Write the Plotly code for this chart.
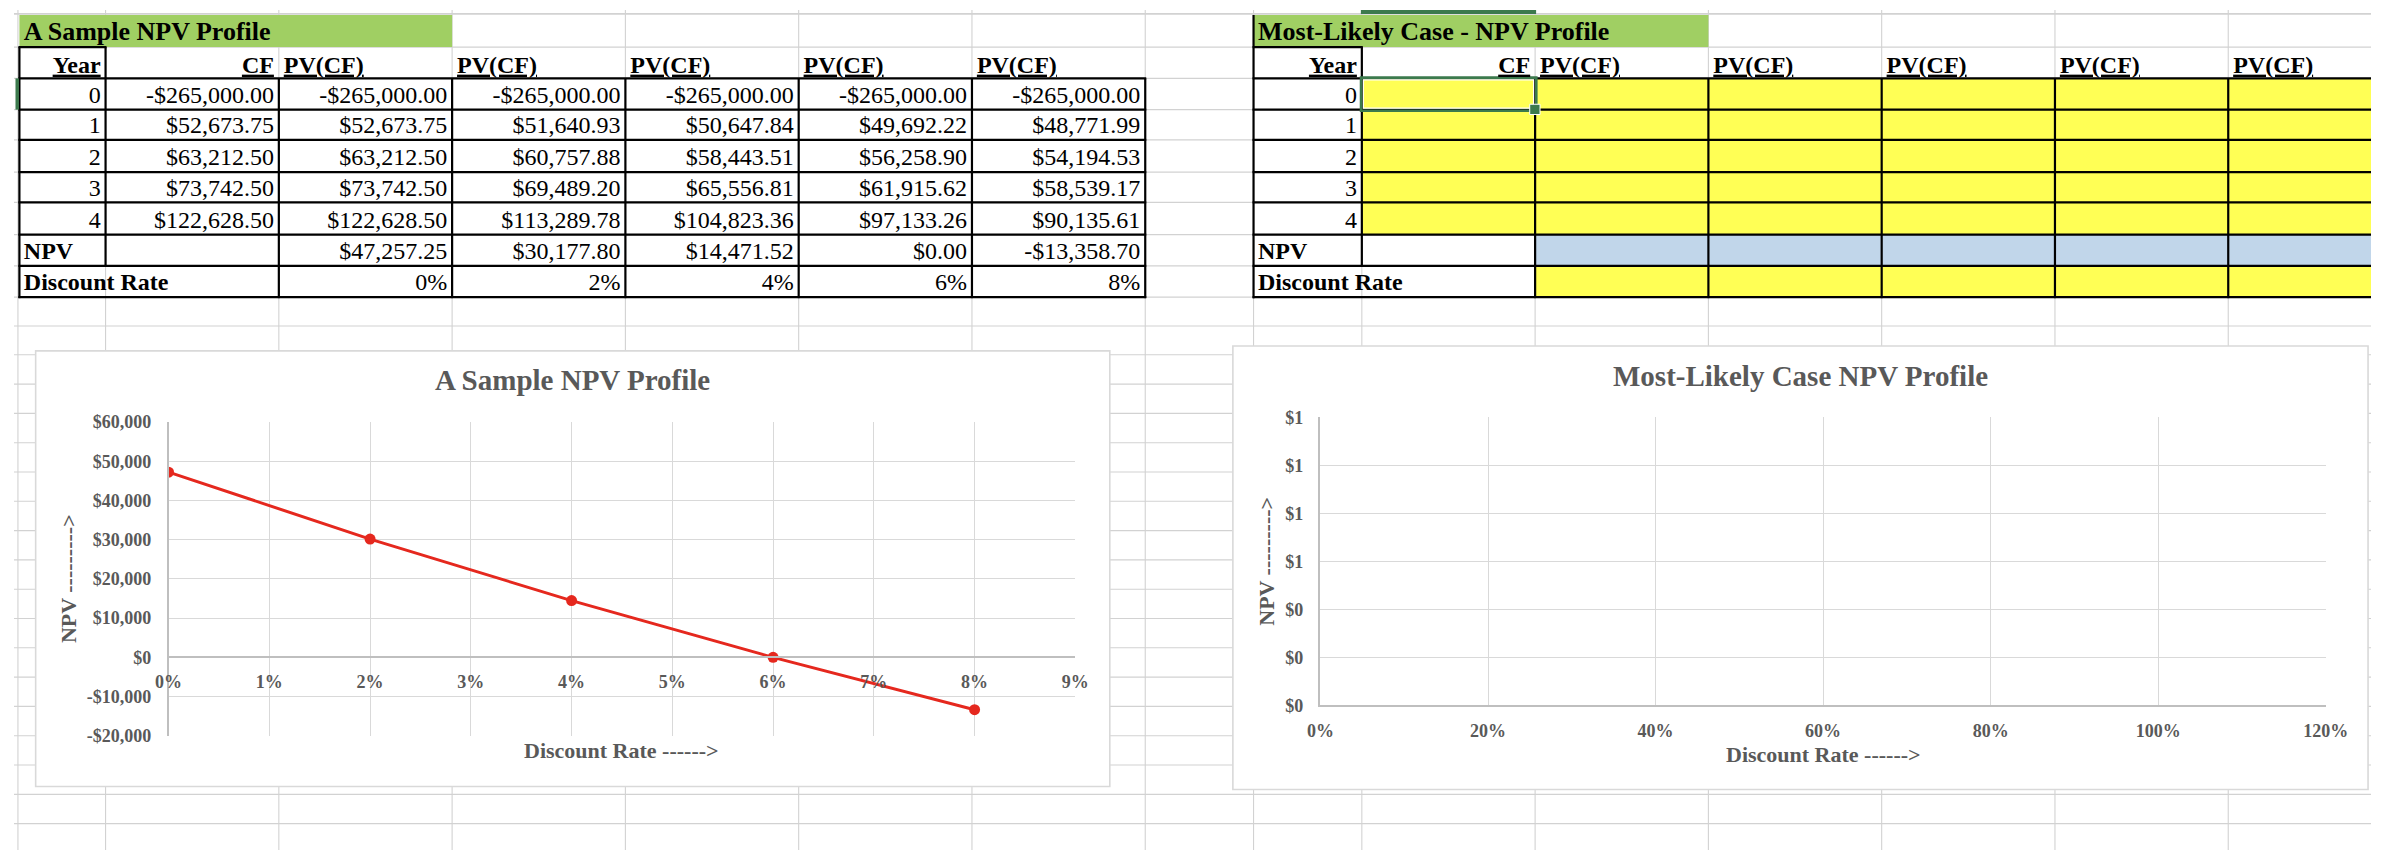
import plotly.graph_objects as go

# ============================== DATA ==============================
years = [0, 1, 2, 3, 4]
cash_flows = [-265000.00, 52673.75, 63212.50, 73742.50, 122628.50]
discount_rates = [0.00, 0.02, 0.04, 0.06, 0.08]
pv_at_0pct = [-265000.00, 52673.75, 63212.50, 73742.50, 122628.50]
pv_at_2pct = [-265000.00, 51640.93, 60757.88, 69489.20, 113289.78]
pv_at_4pct = [-265000.00, 50647.84, 58443.51, 65556.81, 104823.36]
pv_at_6pct = [-265000.00, 49692.22, 56258.90, 61915.62, 97133.26]
pv_at_8pct = [-265000.00, 48771.99, 54194.53, 58539.17, 90135.61]
npv_values = [47257.25, 30177.80, 14471.52, 0.00, -13358.70]

sample_table_title = "A Sample NPV Profile"
likely_table_title = "Most-Likely Case - NPV Profile"
column_headers = ["Year", "CF", "PV(CF)", "PV(CF)", "PV(CF)", "PV(CF)", "PV(CF)"]
summary_row_labels = ["NPV", "Discount Rate"]

sample_chart_title = "A Sample NPV Profile"
likely_chart_title = "Most-Likely Case NPV Profile"
x_axis_title = "Discount Rate ------>"
y_axis_title = "NPV --------->"

sample_x_ticks = [0.00, 0.01, 0.02, 0.03, 0.04, 0.05, 0.06, 0.07, 0.08, 0.09]
sample_x_labels = ["0%", "1%", "2%", "3%", "4%", "5%", "6%", "7%", "8%", "9%"]
sample_y_ticks = [-20000, -10000, 0, 10000, 20000, 30000, 40000, 50000, 60000]
sample_y_labels = ["-$20,000", "-$10,000", "$0", "$10,000", "$20,000",
                   "$30,000", "$40,000", "$50,000", "$60,000"]
likely_x_ticks = [0.0, 0.2, 0.4, 0.6, 0.8, 1.0, 1.2]
likely_x_labels = ["0%", "20%", "40%", "60%", "80%", "100%", "120%"]
likely_y_ticks = [0.0, 0.2, 0.4, 0.6, 0.8, 1.0, 1.2]
likely_y_labels = ["$0", "$0", "$0", "$1", "$1", "$1", "$1"]

pv_columns = [pv_at_0pct, pv_at_2pct, pv_at_4pct, pv_at_6pct, pv_at_8pct]

# ============================== LAYOUT CONSTANTS ==============================
W, H = 2394, 860
SERIF = "Liberation Serif"
GRAY_TXT = "#595959"
GRID = "#d9d9d9"
SHEET_GRID = "#d2d2d2"
AXIS = "#bfbfbf"
BORDER = "#000000"
GREEN_BAND = "#a0cf63"
YELLOW = "#ffff55"
BLUE = "#c1d6ea"
SEL = "#3c7a4d"
RED = "#e5281e"

ROWS = [5, 38, 70, 102, 133, 166, 197, 230, 262, 294]
SHEET_ROW_LINES = [4, 38, 70, 102, 133, 166, 197, 230, 262, 294, 323.5] + [353 + 30 * i for i in range(18)]
SHEET_COL_LINES = [4, 93, 269, 445, 621, 797, 973, 1149, 1259, 1369, 1545, 1721, 1897, 2073, 2249]
LEFT_COLS = [5.5, 93, 269, 445, 621, 797, 973, 1149]
RIGHT_COLS = [1259, 1369, 1545, 1721, 1897, 2073, 2249, 2425]

CH1_FRAME = (22, 349, 1113, 795)
CH1_PLOT = (157, 422, 1078, 743)
CH2_FRAME = (1238, 344, 2391, 798)
CH2_PLOT = (1327, 417, 2348, 712)


def dom_x(x0, x1):
    return [x0 / W, x1 / W]


def dom_y(top, bottom):
    return [1 - bottom / H, 1 - top / H]


def money(v):
    s = "${:,.2f}".format(abs(v))
    return "-" + s if v < 0 else s


def pct(v):
    return "{:.0%}".format(v)


def text_y(row, size, gap=7):
    return ROWS[row + 1] - gap - 0.25 * size


fig = go.Figure()
shapes = []


def sheet_line(x0, y0, x1, y1, color, width):
    shapes.append(dict(type="line", xref="x", yref="y", x0=x0, y0=y0, x1=x1, y1=y1,
                       line=dict(color=color, width=width), layer="below"))


def sheet_rect(x0, y0, x1, y1, fill, color=None, width=0):
    shapes.append(dict(type="rect", xref="x", yref="y", x0=x0, y0=y0, x1=x1, y1=y1,
                       fillcolor=fill, line=dict(color=color or fill, width=width), layer="below"))


# ---------- spreadsheet gridlines ----------
for y in SHEET_ROW_LINES:
    sheet_line(0, y, W, y, SHEET_GRID, 1.6 if y == 4 else 1.1)
for x in SHEET_COL_LINES:
    sheet_line(x, 0, x, H, SHEET_GRID, 1.1)

# ---------- cell fills ----------
sheet_rect(LEFT_COLS[0], ROWS[0], LEFT_COLS[3], ROWS[1], GREEN_BAND)
sheet_rect(RIGHT_COLS[0], ROWS[0], RIGHT_COLS[3], ROWS[1], GREEN_BAND)
sheet_rect(RIGHT_COLS[1], ROWS[2], RIGHT_COLS[-1], ROWS[7], YELLOW)
sheet_rect(RIGHT_COLS[2], ROWS[7], RIGHT_COLS[-1], ROWS[8], BLUE)
sheet_rect(RIGHT_COLS[2], ROWS[8], RIGHT_COLS[-1], ROWS[9], YELLOW)


# ---------- table borders ----------
def table_borders(C, left_top):
    bw = 2.2
    sheet_line(C[0] - 1, ROWS[1], C[1] + 1, ROWS[1], BORDER, bw)
    for r in range(2, 10):
        sheet_line(C[0] - 1, ROWS[r], C[-1] + 1, ROWS[r], BORDER, bw)
    sheet_line(C[0], left_top, C[0], ROWS[9] + 1, BORDER, bw)
    sheet_line(C[1], ROWS[1], C[1], ROWS[8], BORDER, bw)
    for c in range(2, len(C)):
        sheet_line(C[c], ROWS[2], C[c], ROWS[9] + 1, BORDER, bw)


table_borders(LEFT_COLS, ROWS[1])
table_borders(RIGHT_COLS, ROWS[0])

# ---------- Excel selection marks ----------
sheet_rect(RIGHT_COLS[1] - 1, 0, RIGHT_COLS[2] + 1, 4, SEL)
sheet_rect(1.5, ROWS[2], 5, ROWS[3], SEL)
shapes.append(dict(type="rect", xref="x", yref="y", x0=RIGHT_COLS[1] + 1.5, y0=ROWS[2] + 1.5,
                   x1=RIGHT_COLS[2] - 1.5, y1=ROWS[3] - 1.5, line=dict(color="white", width=1.2),
                   fillcolor="rgba(0,0,0,0)", layer="below"))
shapes.append(dict(type="rect", xref="x", yref="y", x0=RIGHT_COLS[1] - 0.8, y0=ROWS[2] - 0.8,
                   x1=RIGHT_COLS[2] + 1.2, y1=ROWS[3] + 1.2, line=dict(color=SEL, width=2.6),
                   fillcolor="rgba(0,0,0,0)", layer="below"))
sheet_rect(RIGHT_COLS[2] - 5.5, ROWS[3] - 5.5, RIGHT_COLS[2] + 5, ROWS[3] + 5, SEL, "white", 1)

# ---------- chart frames ----------
sheet_rect(*CH1_FRAME, "white", GRID, 1.6)
sheet_rect(*CH2_FRAME, "white", GRID, 1.6)

# plot-area outlines (light gridline colour)
for ax in ("x2", "x3"):
    yax = "y" + ax[1:]
    shapes.append(dict(type="rect", xref=ax + " domain", yref=yax + " domain", x0=0, x1=1, y0=0, y1=1,
                       line=dict(color=GRID, width=1.3), fillcolor="rgba(0,0,0,0)", layer="below"))


# ---------- text helper ----------
def add_text(xs, ys, texts, pos, size, bold=False):
    fig.add_trace(go.Scatter(
        x=xs, y=ys, text=texts, mode="text", textposition=pos,
        textfont=dict(family=SERIF, size=size, color="black", weight="bold" if bold else "normal"),
        hoverinfo="skip", showlegend=False, xaxis="x", yaxis="y", cliponaxis=False))


FS = 24
TFS = 26
for C, title in ((LEFT_COLS, sample_table_title), (RIGHT_COLS, likely_table_title)):
    # title band
    add_text([C[0] + 4.5], [text_y(0, TFS)], [title], "middle right", TFS, True)
    # headers
    add_text([C[1] - 5, C[2] - 5], [text_y(1, FS, 6)] * 2,
             ["<u>%s</u>" % h for h in column_headers[:2]], "middle left", FS, True)
    add_text([C[c] + 5 for c in range(2, 7)], [text_y(1, FS, 6)] * 5,
             ["<u>%s</u>" % h for h in column_headers[2:]], "middle right", FS, True)
    # year labels
    add_text([C[1] - 5] * len(years), [text_y(2 + i, FS) for i in range(len(years))],
             [str(y) for y in years], "middle left", FS)
    # summary labels
    add_text([C[0] + 4.5] * 2, [text_y(7, FS), text_y(8, FS)], summary_row_labels, "middle right", FS, True)

# sample table numbers
L = LEFT_COLS
add_text([L[2] - 5] * len(cash_flows), [text_y(2 + i, FS) for i in range(len(cash_flows))],
         [money(v) for v in cash_flows], "middle left", FS)
for j, col in enumerate(pv_columns):
    add_text([L[3 + j] - 5] * len(col), [text_y(2 + i, FS) for i in range(len(col))],
             [money(v) for v in col], "middle left", FS)
add_text([L[3 + j] - 5 for j in range(len(npv_values))], [text_y(7, FS)] * len(npv_values),
         [money(v) for v in npv_values], "middle left", FS)
add_text([L[3 + j] - 5 for j in range(len(discount_rates))], [text_y(8, FS)] * len(discount_rates),
         [pct(v) for v in discount_rates], "middle left", FS)

# ---------- charts ----------
fig.add_trace(go.Scatter(
    x=discount_rates, y=npv_values, mode="lines+markers",
    line=dict(color=RED, width=3), marker=dict(size=11, color=RED),
    xaxis="x2", yaxis="y2", showlegend=False, hoverinfo="skip"))
fig.add_trace(go.Scatter(x=[], y=[], mode="lines", xaxis="x3", yaxis="y3", showlegend=False))

tick_font = dict(family=SERIF, size=18, color=GRAY_TXT, weight="bold")
y2dom = dom_y(CH1_PLOT[1], CH1_PLOT[3])
y_lo, y_hi = min(sample_y_ticks), max(sample_y_ticks)
x2_pos = y2dom[0] + (0 - y_lo) / (y_hi - y_lo) * (y2dom[1] - y2dom[0])

common_axis = dict(showgrid=True, gridcolor=GRID, gridwidth=1.3, zeroline=False, showline=True,
                   linecolor=AXIS, linewidth=1.5, ticks="", tickfont=tick_font, tickmode="array",
                   fixedrange=True)

annotations = []


def note(x, y, text, size, angle=0):
    annotations.append(dict(xref="x", yref="y", x=x, y=y, text=text, showarrow=False, textangle=angle,
                            font=dict(family=SERIF, size=size, color=GRAY_TXT, weight="bold"),
                            xanchor="center", yanchor="middle"))


note((CH1_FRAME[0] + CH1_FRAME[2]) / 2, 379, sample_chart_title, 29)
note((CH2_FRAME[0] + CH2_FRAME[2]) / 2, 375, likely_chart_title, 29)
note((CH1_PLOT[0] + CH1_PLOT[2]) / 2, 758, x_axis_title, 22)
note((CH2_PLOT[0] + CH2_PLOT[2]) / 2, 762, x_axis_title, 22)
note(56, (CH1_PLOT[1] + CH1_PLOT[3]) / 2, y_axis_title, 22, -90)
note(1272, (CH2_PLOT[1] + CH2_PLOT[3]) / 2, y_axis_title, 22, -90)

fig.update_layout(
    width=W, height=H, margin=dict(l=0, r=0, t=0, b=0),
    paper_bgcolor="white", plot_bgcolor="rgba(0,0,0,0)",
    showlegend=False, hovermode=False,
    xaxis=dict(domain=[0, 1], range=[0, W], visible=False, fixedrange=True),
    yaxis=dict(domain=[0, 1], range=[H, 0], visible=False, fixedrange=True),
    xaxis2=dict(common_axis, domain=dom_x(CH1_PLOT[0], CH1_PLOT[2]),
                range=[min(sample_x_ticks), max(sample_x_ticks)],
                tickvals=sample_x_ticks, ticktext=sample_x_labels,
                anchor="free", position=x2_pos, ticklabelstandoff=8),
    yaxis2=dict(common_axis, domain=y2dom, range=[y_lo, y_hi],
                tickvals=sample_y_ticks, ticktext=sample_y_labels,
                anchor="x2", ticklabelstandoff=12),
    xaxis3=dict(common_axis, domain=dom_x(CH2_PLOT[0], CH2_PLOT[2]),
                range=[min(likely_x_ticks), max(likely_x_ticks)],
                tickvals=likely_x_ticks, ticktext=likely_x_labels,
                anchor="y3", ticklabelstandoff=8),
    yaxis3=dict(common_axis, domain=dom_y(CH2_PLOT[1], CH2_PLOT[3]),
                range=[min(likely_y_ticks), max(likely_y_ticks)],
                tickvals=likely_y_ticks, ticktext=likely_y_labels,
                anchor="x3", ticklabelstandoff=12),
    shapes=shapes,
    annotations=annotations,
)

fig.write_html("out.html", config={"displayModeBar": False})
